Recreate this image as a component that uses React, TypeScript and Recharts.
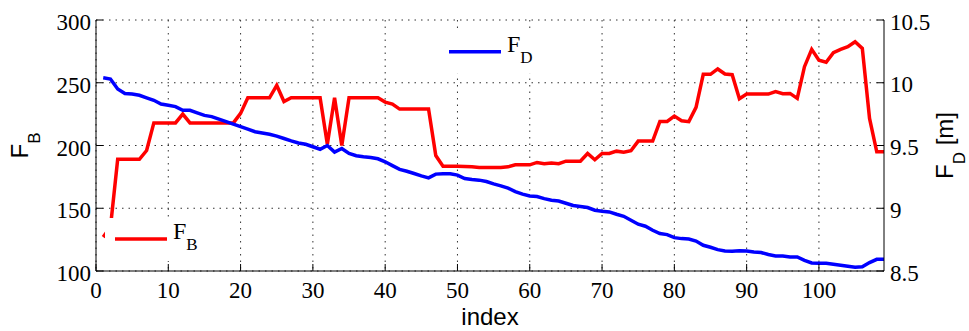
import React from 'react';
import { LineChart, Line, XAxis, YAxis, CartesianGrid, Legend } from 'recharts';

// F_B per index (left axis)
const FB = [
  127, 135, 189, 189, 189, 189, 196, 218, 218, 218,
  218, 225, 218, 218, 218, 218, 218, 218, 218, 225.6,
  238, 238, 238, 238, 248, 235, 238, 238, 238, 238,
  238, 201, 238, 200, 238, 238, 238, 238, 238, 234.6,
  233, 229, 229, 229, 229, 229, 192, 183.5, 183.5, 183.5,
  183.3, 183, 182.5, 182.5, 182.5, 182.5, 183, 184.6, 184.6, 184.6,
  186.5, 185.5, 186, 185.5, 187.5, 187.5, 187.5, 193.6, 188.6, 193.6,
  193.6, 195.5, 194.7, 195.8, 203.5, 203.5, 203.5, 219.2, 219.2, 223.4,
  219.7, 219, 230.4, 256.7, 256.7, 261, 257, 256.4, 237.3, 241,
  241, 241, 241, 243, 241.3, 241.5, 237.5, 262.8, 276.6, 268,
  266.3, 274, 276.6, 278.7, 282.7, 277.4, 221.6, 195, 195,
];

// F_D [m] per index (right axis)
const FD = [
  10.04, 10.03, 9.95, 9.915, 9.91, 9.9, 9.88, 9.86, 9.83, 9.82,
  9.81, 9.78, 9.78, 9.76, 9.74, 9.73, 9.71, 9.69, 9.67, 9.65,
  9.63, 9.61, 9.6, 9.59, 9.575, 9.556, 9.537, 9.52, 9.51, 9.49,
  9.47, 9.5, 9.447, 9.476, 9.436, 9.418, 9.41, 9.404, 9.394, 9.37,
  9.34, 9.31, 9.295, 9.277, 9.258, 9.242, 9.272, 9.274, 9.274, 9.264,
  9.237, 9.229, 9.224, 9.213, 9.194, 9.178, 9.16, 9.133, 9.112, 9.098,
  9.093, 9.077, 9.064, 9.058, 9.04, 9.022, 9.014, 9.006, 8.984, 8.976,
  8.971, 8.952, 8.936, 8.905, 8.873, 8.857, 8.825, 8.798, 8.79, 8.766,
  8.758, 8.755, 8.739, 8.705, 8.689, 8.67, 8.66, 8.657, 8.662, 8.66,
  8.652, 8.647, 8.631, 8.62, 8.62, 8.612, 8.612, 8.585, 8.564, 8.561,
  8.561, 8.553, 8.546, 8.538, 8.53, 8.533, 8.567, 8.593, 8.593,
];

const X_TICKS = [0, 10, 20, 30, 40, 50, 60, 70, 80, 90, 100];
const FB_TICKS = [100, 150, 200, 250, 300];
const FD_TICKS = [8.5, 9, 9.5, 10, 10.5];

const data = FB.map((v, i) => ({ idx: i + 1, fb: v, fd: FD[i] }));

const SERIF = "'Liberation Serif', 'Times New Roman', serif";
const SANS = "'Liberation Sans', Arial, sans-serif";
const serifStyle = { fontFamily: SERIF };
const sansStyle = { fontFamily: SANS };

const LeftTick = (props: any) => {
  const { x, y, payload } = props;
  return (
    <g>
      <line x1={x} x2={x + 7} y1={y} y2={y} stroke="#000" />
      <text x={x - 5} y={y} dy={10} textAnchor="end" style={serifStyle} fontSize={23} fill="#000">
        {payload.value}
      </text>
    </g>
  );
};

const RightTick = (props: any) => {
  const { x, y, payload } = props;
  return (
    <g>
      <line x1={x - 7} x2={x} y1={y} y2={y} stroke="#000" />
      <text x={x + 6} y={y} dy={9.5} textAnchor="start" style={serifStyle} fontSize={23} fill="#000">
        {payload.value}
      </text>
    </g>
  );
};

const BottomTick = (props: any) => {
  const { x, y, payload } = props;
  return (
    <g>
      <line x1={x} x2={x} y1={y} y2={y - 7} stroke="#000" />
      <text x={x} y={y} dy={27} textAnchor="middle" style={serifStyle} fontSize={23} fill="#000">
        {payload.value}
      </text>
    </g>
  );
};

const FBLabel = (props: any) => {
  const { x, y, height } = props.viewBox;
  const bx = x + 28;
  const cy = y + height / 2;
  return (
    <text
      x={bx}
      y={cy}
      transform={`rotate(-90, ${bx}, ${cy})`}
      textAnchor="middle"
      style={sansStyle}
      fontSize={24}
      fill="#000"
    >
      <tspan>F</tspan>
      <tspan dy={12} fontSize={17}>B</tspan>
    </text>
  );
};

const FDLabel = (props: any) => {
  const { x, y, height } = props.viewBox;
  const bx = x + 69;
  const cy = y + height / 2;
  return (
    <text
      x={bx}
      y={cy}
      transform={`rotate(-90, ${bx}, ${cy})`}
      textAnchor="middle"
      style={sansStyle}
      fontSize={24}
      fill="#000"
    >
      <tspan>F</tspan>
      <tspan dy={12} fontSize={17}>D</tspan>
      <tspan dy={-12}> [m]</tspan>
    </text>
  );
};

const IndexLabel = (props: any) => {
  const { x, y, width } = props.viewBox;
  return (
    <text x={x + width / 2} y={y + 54} textAnchor="middle" style={sansStyle} fontSize={24} fill="#000">
      index
    </text>
  );
};

// legend boxes, placed like the MATLAB figure
const LEGEND_POS: Record<string, { x: number; y: number; sub: string }> = {
  fb: { x: 115, y: 239, sub: 'B' },
  fd: { x: 449, y: 51.7, sub: 'D' },
};

const LegendContent = (props: any) => {
  const { payload } = props;
  return (
    <svg width={969} height={331} style={{ position: 'absolute', left: 0, top: 0 }}>
      {(payload || []).map((entry: any) => {
        const pos = LEGEND_POS[entry.dataKey];
        if (!pos) return null;
        return (
          <g key={entry.dataKey}>
            <rect x={pos.x - 10} y={pos.y - 21} width={96} height={43} fill="#fff" />
            <line x1={pos.x} x2={pos.x + 52} y1={pos.y} y2={pos.y} stroke={entry.color} strokeWidth={3.5} />
            <text x={pos.x + 58} y={pos.y} style={serifStyle} fontSize={24} fill="#000">
              <tspan>F</tspan>
              <tspan dy={11} fontSize={17}>{pos.sub}</tspan>
            </text>
          </g>
        );
      })}
    </svg>
  );
};

export default function App() {
  return (
    <div style={{ position: 'fixed', left: 0, top: 0, width: 969, height: 331, background: '#fff' }}>
      <LineChart width={969} height={331} data={data} margin={{ top: 20, right: 0, bottom: 0, left: 0 }}>
        <CartesianGrid
          yAxisId="left"
          stroke="#333"
          strokeDasharray="1.5 5"
          verticalValues={X_TICKS}
        />
        <XAxis
          dataKey="idx"
          type="number"
          domain={[0, 109]}
          ticks={X_TICKS}
          interval={0}
          height={60}
          tickSize={0}
          tickMargin={0}
          tick={<BottomTick />}
          axisLine={{ stroke: '#000' }}
          label={(p: any) => <IndexLabel {...p} />}
        />
        <YAxis
          yAxisId="left"
          orientation="left"
          domain={[100, 300]}
          ticks={FB_TICKS}
          interval={0}
          width={96}
          tickSize={0}
          tickMargin={0}
          tick={<LeftTick />}
          axisLine={{ stroke: '#000' }}
          label={(p: any) => <FBLabel {...p} />}
        />
        <YAxis
          yAxisId="right"
          orientation="right"
          domain={[8.5, 10.5]}
          ticks={FD_TICKS}
          interval={0}
          width={85}
          tickSize={0}
          tickMargin={0}
          tick={<RightTick />}
          axisLine={{ stroke: '#000' }}
          label={(p: any) => <FDLabel {...p} />}
        />
        <Line
          yAxisId="left"
          dataKey="fb"
          name="F_B"
          type="linear"
          stroke="#ff0000"
          strokeWidth={3.5}
          dot={false}
          isAnimationActive={false}
        />
        <Line
          yAxisId="right"
          dataKey="fd"
          name="F_D"
          type="linear"
          stroke="#0000ff"
          strokeWidth={3.5}
          dot={false}
          isAnimationActive={false}
        />
        <Legend
          layout="vertical"
          align="center"
          verticalAlign="middle"
          wrapperStyle={{ left: 0, top: 0, width: 969, height: 331, pointerEvents: 'none' }}
          content={<LegendContent />}
        />
      </LineChart>
    </div>
  );
}
